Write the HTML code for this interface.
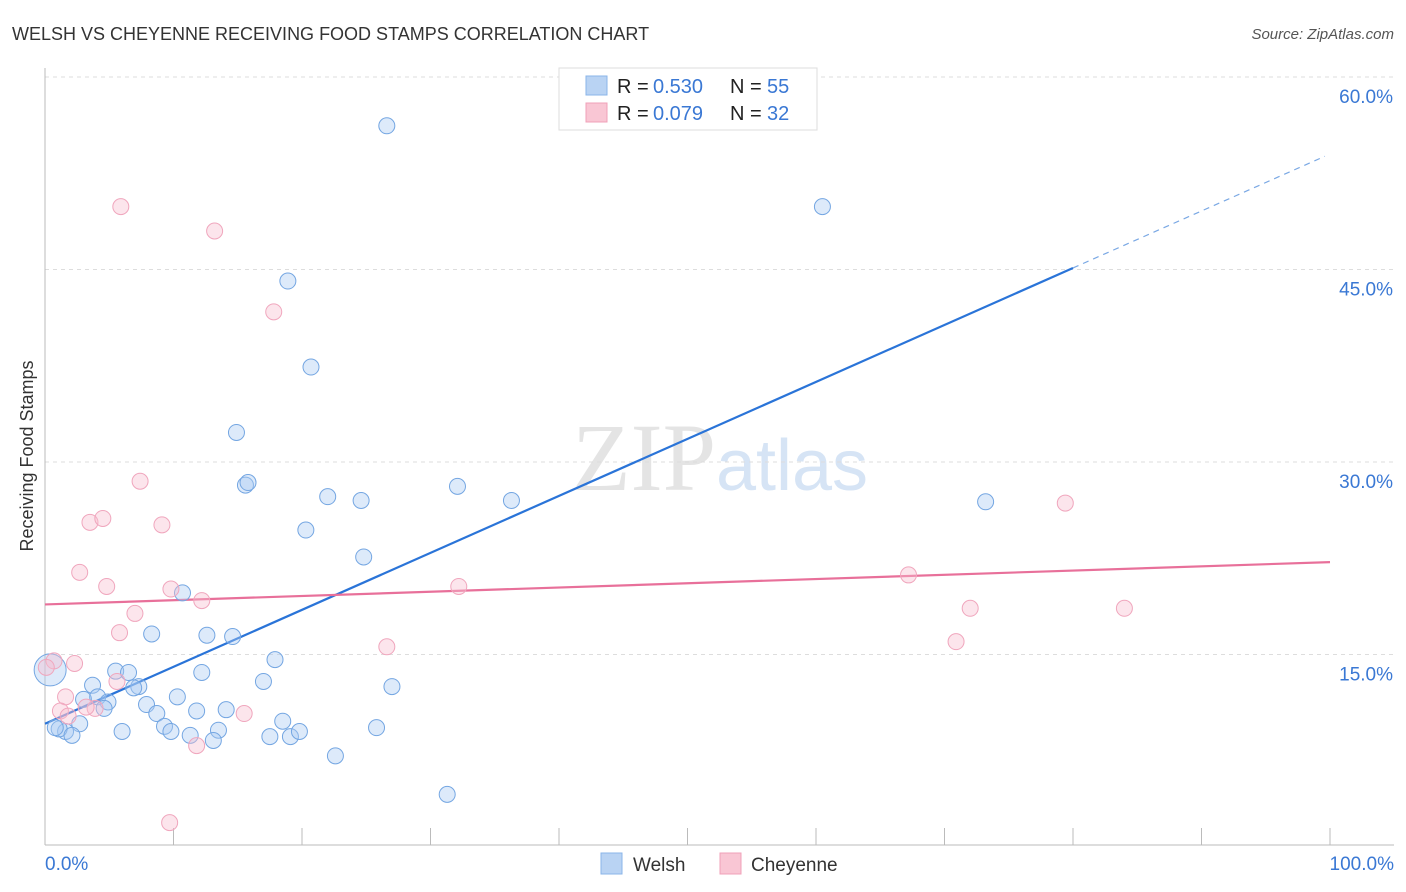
<!DOCTYPE html>
<html><head><meta charset="utf-8"><style>
body{margin:0;background:#fff;font-family:"Liberation Sans",sans-serif;}
svg{display:block}
</style></head><body>
<svg id="chart" width="1406" height="892" viewBox="0 0 1406 892" xmlns="http://www.w3.org/2000/svg">
<text x="12" y="40" font-size="18" fill="#333">WELSH VS CHEYENNE RECEIVING FOOD STAMPS CORRELATION CHART</text>
<text x="1394" y="39" font-size="15" fill="#555" font-style="italic" text-anchor="end">Source: ZipAtlas.com</text>
<text x="720" y="490" font-size="96" fill="#e4e4e4" text-anchor="middle" font-family="Liberation Serif">ZIP<tspan fill="#d6e4f5" font-family="Liberation Sans" font-size="72">atlas</tspan></text>
<text transform="translate(33,456) rotate(-90)" font-size="18" fill="#333" text-anchor="middle">Receiving Food Stamps</text>
<g id="grid"></g><g id="ticks"></g><g id="lines"></g><g id="pts"></g>
<g>
<rect x="559" y="68" width="258" height="62" fill="#fff" stroke="#ddd"/>
<rect x="586" y="76" width="21" height="19" fill="#b9d3f3" stroke="#8ab4e8"/>
<rect x="586" y="103" width="21" height="19" fill="#f9c6d4" stroke="#f0a0b8"/>
<text x="617" y="93" font-size="20" fill="#222">R =</text>
<text x="653" y="93" font-size="20" fill="#3a78d4">0.530</text>
<text x="730" y="93" font-size="20" fill="#222">N =</text>
<text x="767" y="93" font-size="20" fill="#3a78d4">55</text>
<text x="617" y="120" font-size="20" fill="#222">R =</text>
<text x="653" y="120" font-size="20" fill="#3a78d4">0.079</text>
<text x="730" y="120" font-size="20" fill="#222">N =</text>
<text x="767" y="120" font-size="20" fill="#3a78d4">32</text>
</g>
<g>
<rect x="601" y="853" width="21" height="21" fill="#b9d3f3" stroke="#8ab4e8"/>
<text x="633" y="871" font-size="19" fill="#333">Welsh</text>
<rect x="720" y="853" width="21" height="21" fill="#f9c6d4" stroke="#f0a0b8"/>
<text x="751" y="871" font-size="19" fill="#333">Cheyenne</text>
</g>
</svg>
<script>
const xTickLabels=["0.0%","100.0%"];
const yTicks=[15,30,45,60];
const welshX=[26.6,60.5,18.9,20.7,14.9,15.6,15.8,32.1,22.0,24.6,36.3,73.2,20.3,24.8,10.7,8.3,12.6,14.6,17.9,5.5,6.5,12.2,17.0,3.7,7.3,6.9,3.0,4.1,4.9,10.3,7.9,4.6,8.7,11.8,14.1,27.0,9.3,13.5,18.5,2.7,1.6,6.0,9.8,11.3,13.1,17.5,19.1,19.8,25.8,1.1,2.1,22.6,31.3,0.4,0.8];
const welshY=[56.2,49.9,44.1,37.4,32.3,28.2,28.4,28.1,27.3,27.0,27.0,26.9,24.7,22.6,19.8,16.6,16.5,16.4,14.6,13.7,13.6,13.6,12.9,12.6,12.5,12.4,11.5,11.7,11.3,11.7,11.1,10.8,10.4,10.6,10.7,12.5,9.4,9.1,9.8,9.6,9.0,9.0,9.0,8.7,8.3,8.6,8.6,9.0,9.3,9.2,8.7,7.1,4.1,13.8,9.3];
const cheyX=[5.9,13.2,17.8,7.4,3.5,4.5,9.1,2.7,4.8,9.8,12.2,32.2,7.0,5.8,0.7,2.3,26.6,5.6,1.6,3.9,1.2,3.2,15.5,11.8,9.7,67.2,72.0,70.9,79.4,84.0,0.1,1.8];
const cheyY=[49.9,48.0,41.7,28.5,25.3,25.6,25.1,21.4,20.3,20.1,19.2,20.3,18.2,16.7,14.5,14.3,15.6,12.9,11.7,10.8,10.6,10.9,10.4,7.9,1.9,21.2,18.6,16.0,26.8,18.6,14.0,10.2];
const welshTrend=[9.6,0.444]; // intercept, slope
const cheyTrend=[18.9,0.033];
const NS="http://www.w3.org/2000/svg";
const sx=v=>45+v*12.85, sy=v=>847-v*192.5/15;
function mk(t,a,p){const e=document.createElementNS(NS,t);for(const k in a)e.setAttribute(k,a[k]);document.getElementById(p).appendChild(e);return e;}
yTicks.forEach(t=>{
 const g=mk('line',{x1:45,x2:1394,y1:sy(t),y2:sy(t),stroke:'#ddd','stroke-dasharray':'4,4'},'grid');
 
 
 const l=mk('text',{x:1393,y:sy(t)+26,'font-size':19,fill:'#3a78d4','text-anchor':'end'},'grid');
 l.textContent=t.toFixed(1)+'%';
 
 
});
const ax=mk('line',{x1:45,x2:1394,y1:845,y2:845,stroke:'#bbb'},'ticks');


const ay=mk('line',{x1:45,x2:45,y1:68,y2:845,stroke:'#bbb'},'ticks');


for(let i=0;i<=10;i++){const t=mk('line',{x1:sx(i*10),x2:sx(i*10),y1:828,y2:845,stroke:'#bbb'},'ticks');
 
 }
[[0,'start',45],[100,'end',1394]].forEach((d,i)=>{const t=mk('text',{x:d[2],y:870,'font-size':19,fill:'#3a78d4','text-anchor':d[1]},'ticks');t.textContent=xTickLabels[i];
 
 });
function dot(x,y,r,f,s,n){const c=mk('circle',{cx:sx(x),cy:sy(y),r:r,fill:f,stroke:s,'stroke-width':1},'pts');
 
 }
welshX.forEach((x,i)=>dot(x,welshY[i],i==53?16:8,'rgba(170,202,242,0.4)','#74a6e2','welsh-point'));
cheyX.forEach((x,i)=>dot(x,cheyY[i],8,'rgba(248,190,208,0.4)','#f0a6bd','cheyenne-point'));
const wl=mk('line',{x1:sx(0),y1:sy(welshTrend[0]),x2:sx(80),y2:sy(welshTrend[0]+80*welshTrend[1]),stroke:'#2a74d8','stroke-width':2.2},'lines');


const wd=mk('line',{x1:sx(80),y1:sy(welshTrend[0]+80*welshTrend[1]),x2:sx(99.6),y2:sy(welshTrend[0]+99.6*welshTrend[1]),stroke:'#7aa8e4','stroke-width':1.2,'stroke-dasharray':'6,5'},'lines');


const cl=mk('line',{x1:sx(0),y1:sy(cheyTrend[0]),x2:sx(100),y2:sy(cheyTrend[0]+100*cheyTrend[1]),stroke:'#e8709a','stroke-width':2.2},'lines');


</script>
</body></html>
